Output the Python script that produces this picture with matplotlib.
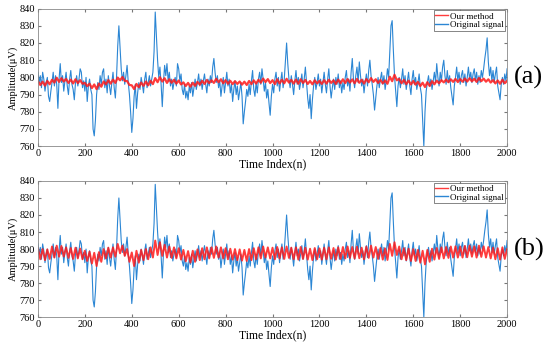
import numpy as np
import matplotlib
matplotlib.use("Agg")
import matplotlib.pyplot as plt

# original signal, read every 5 samples
blue_idx = np.arange(0, 2001, 5)
original = [
    803, 797, 801, 794, 803, 799, 792, 797, 800, 789, 786, 792, 797, 803, 795, 801, 796, 782, 799, 808,
    797, 801, 792, 798, 803, 795, 790, 799, 804, 796, 793, 787, 797, 801, 795, 799, 805, 803, 794, 798,
    792, 800, 786, 795, 799, 793, 790, 770, 766, 775, 790, 797, 793, 801, 796, 803, 805, 794, 799, 791,
    801, 795, 790, 797, 803, 794, 788, 800, 818, 830, 817, 805, 798, 803, 796, 801, 807, 797, 790, 780,
    768, 776, 789, 796, 782, 791, 797, 793, 800, 796, 791, 799, 803, 794, 797, 801, 795, 799, 803, 815,
    838, 824, 810, 800, 806, 796, 783, 797, 807, 801, 808, 798, 803, 795, 799, 793, 797, 800, 795, 808,
    805, 798, 802, 793, 790, 796, 788, 792, 787, 795, 791, 797, 789, 794, 799, 793, 797, 802, 795, 799,
    793, 798, 802, 796, 791, 799, 795, 801, 797, 806, 811, 803, 797, 801, 794, 798, 789, 795, 800, 791,
    797, 803, 795, 799, 791, 796, 786, 793, 798, 790, 795, 787, 792, 797, 789, 773, 780, 786, 793, 789,
    796, 790, 798, 804, 793, 789, 797, 791, 799, 803, 796, 805, 799, 792, 797, 788, 793, 785, 778, 789,
    796, 791, 799, 803, 795, 800, 792, 798, 803, 794, 799, 810, 820, 808, 799, 794, 801, 796, 790, 798,
    804, 796, 800, 793, 797, 802, 794, 799, 806, 797, 788, 782, 790, 776, 787, 795, 800, 793, 797, 802,
    795, 799, 791, 797, 803, 796, 791, 799, 805, 795, 788, 794, 799, 793, 800, 796, 802, 794, 798, 791,
    797, 793, 800, 804, 795, 799, 792, 803, 811, 799, 794, 801, 806, 797, 809, 801, 795, 799, 791, 797,
    802, 795, 804, 810, 801, 796, 790, 781, 788, 795, 800, 794, 799, 803, 796, 801, 793, 798, 805, 800,
    815, 830, 833, 816, 801, 792, 783, 795, 800, 794, 799, 805, 796, 801, 793, 798, 803, 795, 790, 799,
    804, 796, 800, 793, 797, 802, 794, 790, 775, 760, 780, 792, 797, 801, 795, 799, 793, 798, 803, 797,
    808, 800, 795, 803, 798, 806, 810, 801, 796, 804, 797, 801, 794, 789, 784, 795, 800, 806, 798, 803,
    796, 801, 804, 797, 802, 795, 800, 806, 799, 803, 797, 802, 805, 798, 803, 796, 801, 797, 804, 800,
    805, 811, 816, 823, 809, 801, 806, 798, 804, 797, 802, 806, 795, 791, 787, 796, 800, 796, 802, 798,
    805,
]

# filtered output, read every 10 samples
red_idx = np.arange(0, 2001, 10)
method_a = [
    797.8, 795.6, 797.5, 795.2, 797.9, 796.0, 798.6, 797.0, 799.8, 797.4, 799.5, 797.6, 799.1, 796.8, 798.7, 796.5, 798.9, 796.7, 798.4, 796.3,
    796.8, 794.9, 796.3, 793.8, 795.9, 793.2, 796.4, 794.6, 797.6, 796.0, 798.4, 796.4, 798.7, 796.8, 799.9, 798.3, 800.2, 798.0, 797.9, 795.6,
    795.4, 793.2, 796.2, 794.3, 797.0, 795.1, 797.6, 795.4, 798.0, 796.1, 799.6, 797.2, 800.1, 797.6, 799.5, 796.8, 798.9, 796.9, 798.6, 796.4,
    798.2, 795.9, 797.1, 795.0, 796.8, 794.6, 796.9, 795.1, 797.4, 795.8, 798.0, 796.2, 798.5, 796.7, 798.3, 796.8, 799.2, 797.2, 798.9, 796.6,
    798.4, 796.3, 798.0, 796.1, 797.8, 796.2, 797.6, 795.8, 797.5, 795.6, 797.9, 796.1, 798.3, 796.4, 798.6, 796.9, 799.3, 797.3, 799.0, 796.7,
    798.4, 796.1, 798.9, 796.5, 798.6, 796.6, 799.2, 797.0, 798.5, 796.4, 798.7, 796.3, 798.9, 796.8, 798.5, 796.2, 797.9, 796.0, 798.3, 796.5,
    798.0, 796.2, 798.4, 796.4, 798.6, 796.8, 798.3, 796.2, 798.7, 796.6, 798.9, 796.7, 799.0, 797.0, 798.8, 796.6, 799.1, 796.9, 798.6, 796.4,
    799.0, 797.2, 799.6, 797.4, 798.9, 796.8, 798.5, 796.5, 798.2, 796.3, 800.4, 797.8, 801.5, 798.3, 799.2, 796.6, 798.5, 796.1, 798.1, 795.9,
    797.9, 795.8, 797.4, 795.0, 796.9, 794.4, 797.2, 795.0, 797.8, 796.0, 798.1, 796.6, 798.4, 797.1, 798.7, 797.2, 798.9, 797.4, 799.1, 797.3,
    799.0, 797.5, 799.3, 797.6, 799.5, 797.7, 799.2, 797.4, 799.6, 797.8, 799.3, 797.5, 798.9, 797.0, 798.4, 796.5, 798.2, 796.3, 798.6, 796.6,
    798.0,
]
method_b = [
    800.5, 794.0, 800.0, 793.5, 799.8, 794.2, 801.5, 795.0, 802.0, 795.5, 801.8, 795.6, 801.0, 794.8, 800.6, 794.2, 800.8, 794.5, 800.3, 794.0,
    799.0, 793.0, 798.5, 791.5, 797.8, 790.0, 798.2, 792.5, 800.0, 794.5, 800.8, 795.0, 801.0, 795.5, 803.0, 797.5, 802.0, 796.0, 800.0, 792.5,
    798.0, 790.0, 799.0, 792.0, 799.5, 793.5, 800.0, 794.0, 801.0, 795.0, 805.0, 796.5, 804.0, 796.0, 802.5, 795.0, 801.5, 794.8, 801.0, 794.5,
    800.5, 793.8, 799.5, 792.8, 798.8, 792.0, 799.0, 792.5, 799.8, 793.5, 800.5, 794.0, 801.0, 794.5, 801.0, 794.8, 801.5, 795.0, 801.0, 794.5,
    800.5, 794.0, 800.2, 793.8, 800.0, 793.5, 799.8, 793.2, 799.5, 793.0, 800.0, 793.5, 800.5, 794.0, 801.0, 794.5, 801.5, 795.0, 801.0, 794.5,
    800.8, 794.0, 801.2, 794.5, 801.0, 794.2, 801.5, 794.8, 800.8, 794.0, 801.0, 793.8, 801.2, 794.2, 800.8, 793.8, 800.2, 793.5, 800.6, 794.0,
    800.4, 793.8, 800.8, 794.0, 801.0, 794.3, 800.6, 793.8, 801.0, 794.2, 801.2, 794.5, 801.5, 794.8, 801.2, 794.4, 801.4, 794.6, 800.8, 794.0,
    801.4, 794.8, 802.0, 795.0, 801.2, 794.2, 800.6, 793.8, 800.4, 793.6, 803.0, 796.0, 804.0, 796.5, 801.5, 794.0, 800.5, 793.5, 800.2, 793.0,
    800.0, 793.0, 799.5, 792.0, 799.0, 791.0, 799.5, 792.5, 800.2, 793.8, 800.6, 794.2, 801.0, 794.5, 801.2, 794.8, 801.5, 795.0, 801.6, 795.0,
    801.5, 795.0, 801.8, 795.2, 802.0, 795.5, 801.6, 795.0, 802.0, 795.4, 801.6, 795.0, 801.2, 794.5, 800.8, 794.0, 800.5, 793.8, 801.0, 794.2,
    800.0,
]

panel_tags = ["(a)", "(b)"]
y_ticks = np.arange(760, 841, 10)
x_ticks = np.arange(0, 2001, 200)

plt.rcParams['font.family'] = ['Liberation Serif', 'DejaVu Serif']

fig = plt.figure(figsize=(5.5, 3.44), dpi=100)
boxes = [[0.069, 0.575, 0.853, 0.400], [0.069, 0.078, 0.853, 0.396]]
red_lw = [1.6, 1.4]

for k, method in enumerate([method_a, method_b]):
    ax = fig.add_axes(boxes[k])
    ax.plot(blue_idx, original, color='#2b86d4', lw=0.8, label='Original signal')
    ax.plot(red_idx, method, color='#ff1a1a', lw=red_lw[k], alpha=0.85, label='Our method')
    ax.set_xlim(0, 2000)
    ax.set_ylim(760, 840)
    ax.set_xticks(x_ticks)
    ax.set_yticks(y_ticks)
    ax.tick_params(direction='in', top=True, right=True, labelsize=7.5, length=2.5,
                   color='#777777', pad=2)
    for s in ax.spines.values():
        s.set_color('#888888')
        s.set_linewidth(0.6)
    ax.set_xlabel('Time Index(n)', fontsize=8.5, labelpad=0)
    ax.set_ylabel('Amplitude(μV)', fontsize=7.5, labelpad=1)
    h, l = ax.get_legend_handles_labels()
    leg = ax.legend([h[1], h[0]], [l[1], l[0]], loc='upper right', fontsize=6.5,
                    handlelength=1.4, handletextpad=0.2, borderpad=0.2,
                    labelspacing=0.05, borderaxespad=0.2, fancybox=False, framealpha=1)
    leg.get_frame().set_edgecolor('#555555')
    leg.get_frame().set_linewidth(0.5)
    for line in leg.get_lines():
        line.set_linewidth(1.0)
    ax.text(1.015, 0.5, panel_tags[k], transform=ax.transAxes, fontsize=19,
            va='center', ha='left')

fig.savefig('out.png', dpi=100)
